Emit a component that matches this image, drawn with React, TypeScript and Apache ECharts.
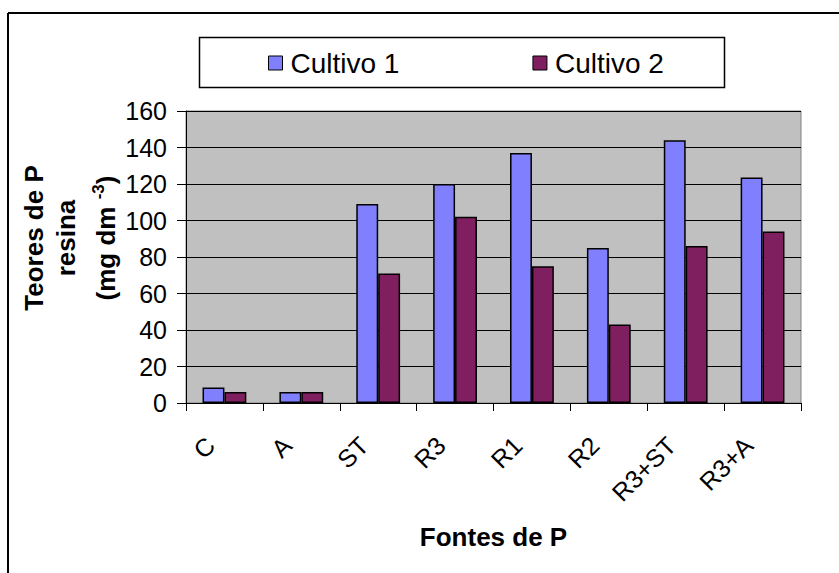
import React, { useEffect, useRef } from "react";
import * as echarts from "echarts";

const categories = ["C", "A", "ST", "R3", "R1", "R2", "R3+ST", "R3+A"];
const cultivo1 = [8.5, 6, 109, 120, 137, 85, 144, 123.5];
const cultivo2 = [6, 6, 71, 102, 75, 43, 86, 94];
const seriesNames = ["Cultivo 1", "Cultivo 2"];
const yTicks = { min: 0, max: 160, interval: 20 };

const FONT = "Liberation Sans, Arial, sans-serif";

export default function App() {
  const ref = useRef<HTMLDivElement>(null);
  useEffect(() => {
    document.body.style.margin = "0";
    const chart = echarts.init(ref.current!, null, { renderer: "svg" });
    chart.setOption({
      animation: false,
      backgroundColor: "#ffffff",
      textStyle: { fontFamily: FONT },
      grid: {
        left: 186,
        right: 38,
        top: 111,
        bottom: 170,
        show: true,
        backgroundColor: "#C0C0C0",
        borderColor: "#808080",
        borderWidth: 1,
      },
      legend: {
        data: seriesNames,
        left: 268,
        top: 49,
        padding: 0,
        itemWidth: 14,
        itemHeight: 14,
        itemGap: 133,
        icon: "rect",
        itemStyle: { borderColor: "#000", borderWidth: 1 },
        textStyle: { fontSize: 28, color: "#000", fontFamily: FONT, lineHeight: 28, padding: [0, 0, 0, 3] },
      },
      xAxis: {
        type: "category",
        data: categories,
        axisLine: { lineStyle: { color: "#000", width: 1 } },
        axisTick: { show: true, length: 8, lineStyle: { color: "#000" } },
        axisLabel: {
          rotate: 45,
          fontSize: 25,
          color: "#000",
          fontFamily: FONT,
          margin: 24,
          padding: [0, 20, 0, 0],
          interval: 0,
        },
      },
      yAxis: {
        type: "value",
        min: yTicks.min,
        max: yTicks.max,
        interval: yTicks.interval,
        axisLine: { show: true, lineStyle: { color: "#000", width: 1 } },
        axisTick: { show: true, length: 9, lineStyle: { color: "#000" } },
        axisLabel: { fontSize: 25, color: "#000", fontFamily: FONT, margin: 19 },
        splitLine: { show: true, lineStyle: { color: "#000", width: 1 } },
      },
      series: [
        {
          name: seriesNames[0],
          type: "bar",
          data: cultivo1,
          barGap: "0%",
          barCategoryGap: "43%",
          itemStyle: { color: "#8080FF", borderColor: "#000", borderWidth: 1.5 },
        },
        {
          name: seriesNames[1],
          type: "bar",
          data: cultivo2,
          barGap: "0%",
          barCategoryGap: "43%",
          itemStyle: { color: "#801F5F", borderColor: "#000", borderWidth: 1.5 },
        },
      ],
      graphic: [
        {
          type: "line",
          shape: { x1: 8, y1: 13, x2: 839, y2: 13 },
          style: { stroke: "#000", lineWidth: 2 },
        },
        {
          type: "line",
          shape: { x1: 8, y1: 13, x2: 8, y2: 573 },
          style: { stroke: "#000", lineWidth: 2 },
        },
        {
          type: "rect",
          z: -1,
          shape: { x: 199.5, y: 37.5, width: 525, height: 50 },
          style: { fill: "#fff", stroke: "#000", lineWidth: 1.5 },
        },
        {
          type: "text",
          x: 34,
          y: 238,
          rotation: Math.PI / 2,
          style: {
            text: "Teores de P",
            font: `bold 26px ${FONT}`,
            fill: "#000",
            align: "center",
            verticalAlign: "middle",
          },
        },
        {
          type: "text",
          x: 66,
          y: 238,
          rotation: Math.PI / 2,
          style: {
            text: "resina",
            font: `bold 26px ${FONT}`,
            fill: "#000",
            align: "center",
            verticalAlign: "middle",
          },
        },
        {
          type: "text",
          x: 106,
          y: 238,
          rotation: Math.PI / 2,
          style: {
            text: "{a|(mg dm }{s|-3}{a|)}",
            fill: "#000",
            align: "center",
            verticalAlign: "middle",
            rich: {
              a: { font: `bold 26px ${FONT}`, fill: "#000", lineHeight: 32, verticalAlign: "middle" },
              s: { font: `bold 17px ${FONT}`, fill: "#000", lineHeight: 32, verticalAlign: "top" },
            },
          },
        },
        {
          type: "text",
          x: 493.5,
          y: 537,
          style: {
            text: "Fontes de P",
            font: `bold 26px ${FONT}`,
            fill: "#000",
            align: "center",
            verticalAlign: "middle",
          },
        },
      ],
    });
    return () => chart.dispose();
  }, []);
  return <div ref={ref} style={{ width: 839, height: 573 }} />;
}
